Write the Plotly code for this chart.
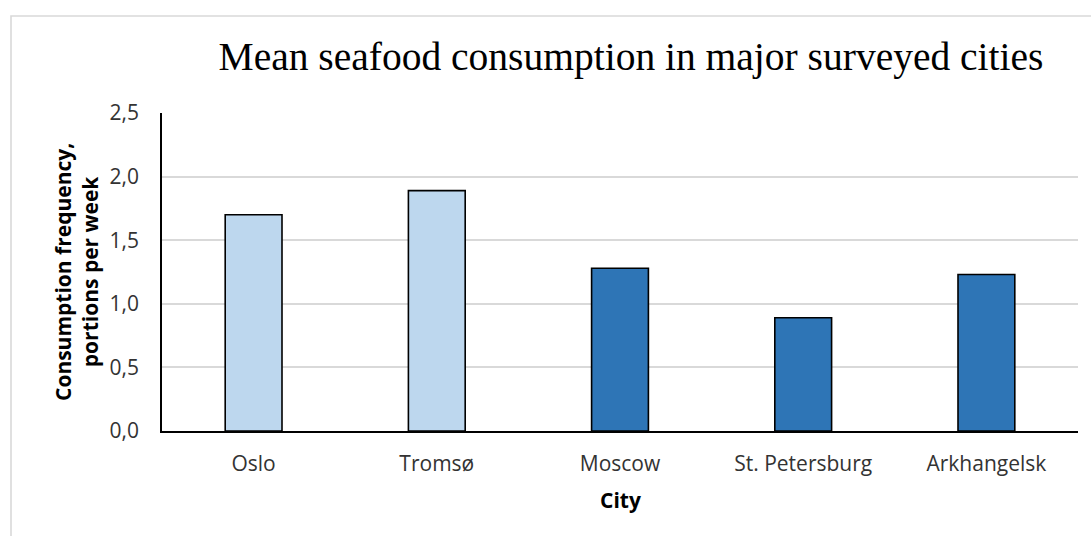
import plotly.graph_objects as go

cities = ["Oslo", "Tromsø", "Moscow", "St. Petersburg", "Arkhangelsk"]
values = [1.70, 1.89, 1.28, 0.89, 1.23]
bar_colors = ["#BDD7EE", "#BDD7EE", "#2E75B6", "#2E75B6", "#2E75B6"]
y_ticks = [0, 0.5, 1.0, 1.5, 2.0, 2.5]

W, H = 1091, 536
ML, MR, MT, MB = 162, 13, 113, 105
pw, ph = W - ML - MR, H - MT - MB

def px_x(x):
    return (x - ML) / pw

def px_y(y):
    return (H - MB - y) / ph

FS = 21

fig = go.Figure()
fig.add_trace(go.Bar(
    x=cities, y=values,
    marker=dict(color=bar_colors, line=dict(color="#000000", width=1.6)),
    width=0.31,
))

fig.update_layout(
    width=W, height=H,
    margin=dict(l=ML, r=MR, t=MT, b=MB),
    paper_bgcolor="white", plot_bgcolor="white",
    separators=",.",
    showlegend=False,
    font=dict(family="Open Sans", size=FS, color="#404040"),
    title=dict(
        text="Mean seafood consumption in major surveyed cities",
        font=dict(family="Liberation Serif", size=39.5, color="#000000"),
        x=px_x(631), xref="paper", xanchor="center",
        y=1 - 56 / H, yref="container", yanchor="middle",
    ),
    xaxis=dict(
        showline=True, linecolor="#000000", linewidth=1.6,
        showgrid=False, ticks="", ticklabelstandoff=13,
        tickfont=dict(family="Open Sans", size=FS, color="#333333"),
    ),
    yaxis=dict(
        range=[0, 2.5], tickvals=y_ticks, tickformat=".1f",
        showline=True, linecolor="#000000", linewidth=1.6,
        showgrid=True, gridcolor="#D9D9D9", gridwidth=1.6,
        zeroline=False, ticks="", ticklabelstandoff=17,
        tickfont=dict(family="Open Sans", size=FS, color="#333333"),
    ),
    annotations=[
        dict(text="<b>Consumption frequency,<br>portions per week</b>",
             xref="paper", yref="paper", x=px_x(76), y=px_y(272),
             xanchor="center", yanchor="middle", textangle=-90, showarrow=False,
             font=dict(family="Open Sans", size=FS, color="#000000")),
        dict(text="<b>City</b>",
             xref="paper", yref="paper", x=px_x(620), y=px_y(500),
             xanchor="center", yanchor="middle", showarrow=False,
             font=dict(family="Open Sans", size=FS, color="#000000")),
    ],
    shapes=[
        dict(type="rect", xref="paper", yref="paper",
             x0=px_x(11), x1=px_x(1100), y0=px_y(545), y1=px_y(16),
             line=dict(color="#D9D9D9", width=1.6), fillcolor="rgba(0,0,0,0)",
             layer="below"),
    ],
)

fig.write_html("out.html")
